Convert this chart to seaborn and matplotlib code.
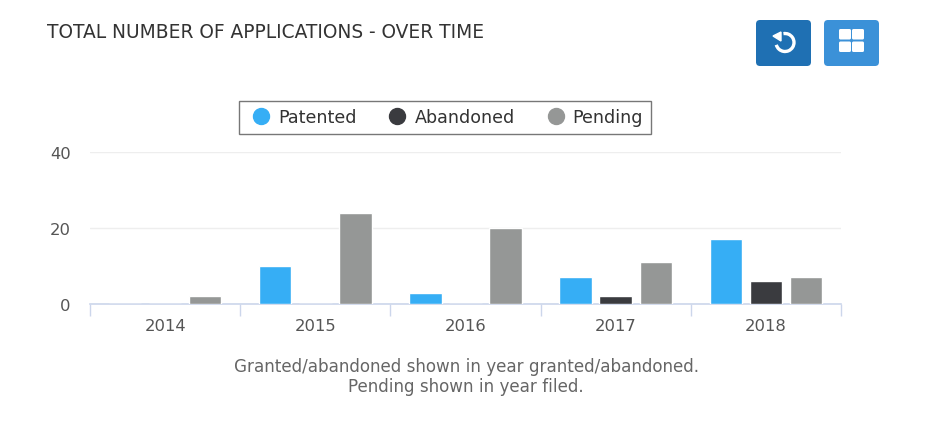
import matplotlib
matplotlib.use("Agg")
import matplotlib.pyplot as plt
import numpy as np
import pandas as pd
import seaborn as sns
from matplotlib.lines import Line2D
from matplotlib.patches import FancyBboxPatch, Arc, Polygon

years = ["2014", "2015", "2016", "2017", "2018"]
patented = [0, 10, 3, 7, 17]
abandoned = [0, 0, 0, 2, 6]
pending = [2, 24, 20, 11, 7]
status_names = ["Patented", "Abandoned", "Pending"]
status_colors = ["#36aef5", "#3a3b3f", "#959796"]
y_ticks = [0, 20, 40]
title_text = "TOTAL NUMBER OF APPLICATIONS - OVER TIME"
note_text = "Granted/abandoned shown in year granted/abandoned.\nPending shown in year filed."

sns.set_theme(style="white")
plt.rcParams["font.family"] = ["DejaVu Sans"]

W, H = 933, 427
fig = plt.figure(figsize=(W / 100, H / 100), dpi=100, facecolor="white")
ax = fig.add_axes([90 / W, 1 - 305 / H, 751 / W, 152 / H])

table = pd.DataFrame({
    "year": years * 3,
    "status": np.repeat(status_names, len(years)),
    "count": patented + abandoned + pending,
})
sns.barplot(data=table, x="year", y="count", hue="status", hue_order=status_names,
            palette=status_colors, saturation=1, width=0.8, gap=0.19, ax=ax,
            legend=False, zorder=3)

ax.set_xlim(-0.5, 4.5)
ax.set_ylim(0, 40)
ax.set_xlabel("")
ax.set_ylabel("")
ax.set_yticks(y_ticks)
ax.grid(axis="y", color="#eeeeee", linewidth=1)
ax.set_axisbelow(True)
for side in ("top", "left", "right"):
    ax.spines[side].set_visible(False)
ax.spines["bottom"].set_color("#ccd6eb")
ax.spines["bottom"].set_linewidth(1.2)
ax.set_xticks(np.arange(-0.5, 5), minor=True)
ax.tick_params(axis="x", which="minor", length=8.6, width=1, color="#ccd6eb", bottom=True)
ax.tick_params(axis="x", which="major", length=0, pad=10, labelsize=11.8, labelcolor="#555555")
ax.tick_params(axis="y", length=0, pad=14, labelsize=11.8, labelcolor="#555555")

handles = [Line2D([], [], linestyle="", marker="o", markersize=11.5, color=c, label=n)
           for c, n in zip(status_colors, status_names)]
ax.legend(handles=handles, loc="center", bbox_to_anchor=((445 - 90) / 751, (305 - 118.5) / 152),
          ncol=3, frameon=True, fancybox=False, framealpha=1, edgecolor="#777777",
          fontsize=12.6, labelcolor="#333333", handletextpad=0.17, columnspacing=1.55,
          borderpad=0.45, handlelength=1.6)

fig.text(47 / W, 1 - 32 / H, title_text, ha="left", va="center", fontsize=13.4, color="#333333")
fig.text(466 / W, 1 - 377 / H, note_text, ha="center", va="center", fontsize=12.1,
         color="#666666", linespacing=1.2)

# Toolbar buttons, drawn in pixel coordinates
overlay = fig.add_axes([0, 0, 1, 1], facecolor="none")
overlay.set_xlim(0, W)
overlay.set_ylim(H, 0)
overlay.axis("off")
for x0, color in ((756, "#1f70b3"), (824, "#3b91d8")):
    overlay.add_patch(FancyBboxPatch((x0, 21), 55, 46, boxstyle="round,pad=0,rounding_size=4",
                                     facecolor=color, edgecolor="none", linewidth=0))
overlay.add_patch(Arc((785, 43.5), 18, 18, theta1=-100, theta2=165, color="white", linewidth=2.4))
overlay.add_patch(Polygon([[773, 37], [781, 33], [781, 42]], closed=True, color="white"))
for gx in (839, 852):
    for gy in (30, 42.5):
        overlay.add_patch(FancyBboxPatch((gx, gy), 12, 10.5, boxstyle="round,pad=0,rounding_size=1.5",
                                         facecolor="white", edgecolor="none", linewidth=0))

fig.savefig("out.png", dpi=100)
